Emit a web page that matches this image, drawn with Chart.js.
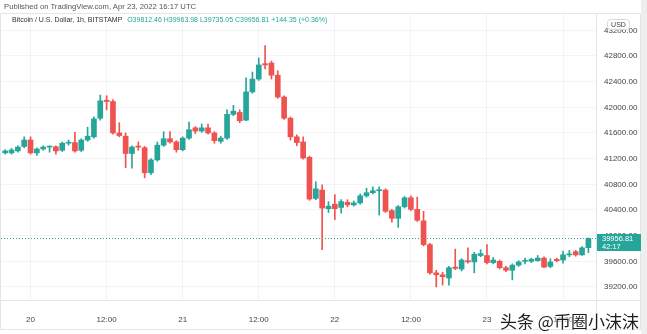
<!DOCTYPE html>
<html>
<head>
<meta charset="utf-8">
<script src="https://cdn.jsdelivr.net/npm/chart.js@4/dist/chart.umd.min.js"></script>
<style>
  html, body { margin: 0; padding: 0; background: #fff; }
  #wrap { position: relative; width: 647px; height: 334px; overflow: hidden; background: #fff; }
  #chart { position: absolute; left: 0; top: 0; }
  .pub { position: absolute; left: 4px; top: 2px; font: 7.7px "Liberation Sans", sans-serif; color: #555; white-space: nowrap; }
  .legend { position: absolute; left: 12px; top: 16px; font: 7px "Liberation Sans", sans-serif; color: #333; white-space: nowrap; }
  .legend .v { color: #26a69a; margin-left: 3px; }
  .wm { position: absolute; left: 500px; top: 308px; font: 17px "Noto Sans CJK SC", sans-serif; color: #1e1e1e; white-space: nowrap;
        text-shadow: 0 0 2px #fff, 0 0 2px #fff, 0 0 3px #fff; }
</style>
</head>
<body>
<div id="wrap">
  <canvas id="chart" width="647" height="334"></canvas>
  <div class="pub">Published on TradingView.com, Apr 23, 2022 16:17 UTC</div>
  <div class="legend">Bitcoin / U.S. Dollar, 1h, BITSTAMP <span class="v" id="ohlc"></span></div>
  <div class="wm">头条 @币圈小沫沫</div>
</div>
<script>
// BTC/USD hourly candles, Bitstamp, Apr 19 20:00 – Apr 23 16:00 UTC
const opens = [41290,41290,41320,41390,41490,41290,41350,41380,41385,41330,
  41440,41450,41330,41490,41540,41830,42110,42090,41600,41550,
  41280,41390,41370,40980,41180,41410,41510,41460,41340,41520,
  41680,41630,41680,41600,41470,41520,41890,41920,41800,42240,
  42440,42680,42690,42500,42160,41830,41540,41460,41220,40580,
  40710,40420,40490,40440,40520,40480,40510,40620,40670,40700,
  40710,40390,40270,40450,40590,40410,40230,39860,39420,39390,
  39340,39510,39480,39610,39590,39690,39690,39580,39600,39500,
  39460,39540,39600,39600,39610,39650,39520,39630,39620,39700,
  39750,39700,39812.46];

const highs = [41340,41360,41400,41540,41540,41370,41400,41400,41400,41460,
  41490,41610,41510,41690,41850,42190,42180,42120,41760,41600,
  41400,41460,41390,41200,41460,41620,41620,41480,41540,41770,
  41700,41740,41740,41620,41550,41960,42030,41960,42460,42550,
  42770,42960,42720,42570,42180,41850,41570,41540,41240,40840,
  40790,40530,40640,40560,40560,40540,40650,40740,40760,40760,
  40730,40410,40470,40610,40620,40600,40380,39880,39460,39430,
  39520,39790,39640,39810,39740,39780,39860,39660,39620,39520,
  39560,39610,39650,39650,39690,39670,39640,39650,39760,39770,
  39770,39830,39963.98];

const lows = [41270,41270,41300,41370,41270,41250,41330,41300,41270,41310,
  41410,41300,41310,41470,41520,41800,41960,41580,41540,41060,
  41050,41330,40900,40950,41160,41390,41440,41300,41320,41500,
  41590,41610,41580,41440,41440,41500,41870,41760,41790,42220,
  42420,42600,42440,42140,41810,41490,41400,41190,40550,40560,
  39780,40360,40250,40350,40450,40460,40490,40600,40650,40320,
  40360,40210,40130,40430,40390,40220,39840,39400,39200,39230,
  39230,39470,39450,39570,39420,39670,39560,39560,39480,39440,
  39310,39520,39560,39580,39600,39500,39500,39590,39570,39670,
  39680,39690,39735.05];

const closes = [41320,41335,41380,41490,41290,41350,41380,41385,41320,41440,
  41450,41320,41490,41550,41820,42100,42090,41600,41560,41280,
  41380,41380,40980,41180,41410,41510,41460,41340,41520,41650,
  41630,41680,41600,41480,41520,41890,41940,41790,42240,42440,
  42660,42660,42500,42160,41830,41540,41450,41210,40570,40730,
  40430,40460,40420,40530,40480,40510,40620,40670,40700,40710,
  40380,40270,40450,40590,40410,40240,39860,39420,39390,39360,
  39500,39490,39620,39590,39710,39720,39580,39620,39500,39460,
  39540,39590,39605,39630,39650,39510,39590,39610,39700,39715,
  39700,39810,39956.81];

// one candle per hour, starting Apr 19 20:00 UTC
const times = opens.map((_, i) => new Date(Date.UTC(2022, 3, 19, 20 + i)));
const dayLabels = ['20', '21', '22', '23'];
const halfDayLabel = '12:00';
const priceTicks = [39200, 39600, 40000, 40400, 40800, 41200, 41600, 42000, 42400, 42800, 43200];
const countdown = '42:17';
const prevClose = 39812.46;

const UP = '#26a69a', DOWN = '#ef5350';
const origin = Date.UTC(2022, 3, 20, 0);
const hourOf = t => (t - origin) / 3600000;
const colors = opens.map((o, i) => closes[i] >= o ? UP : DOWN);

const last = closes.length - 1;
const chg = closes[last] - prevClose;
document.getElementById('ohlc').textContent =
  'O' + opens[last].toFixed(2) + '  H' + highs[last].toFixed(2) + '  L' + lows[last].toFixed(2) +
  '  C' + closes[last].toFixed(2) + '  +' + chg.toFixed(2) + ' (+' + (chg / prevClose * 100).toFixed(2) + '%)';

const frame = {
  id: 'frame',
  beforeDraw(chart) {
    const { ctx, width, height } = chart;
    ctx.save();
    ctx.fillStyle = '#fff';
    ctx.fillRect(0, 0, width, height);
    ctx.fillStyle = '#eeeeee';
    ctx.fillRect(641, 0, width - 641, height);
    ctx.restore();
  },
  beforeDatasetsDraw(chart) {
    const { ctx, chartArea: a, scales: { y } } = chart;
    const yy = Math.round(y.getPixelForValue(closes[last])) + 0.5;
    ctx.save();
    ctx.strokeStyle = UP;
    ctx.lineWidth = 1;
    ctx.setLineDash([1, 2]);
    ctx.beginPath();
    ctx.moveTo(a.left, yy);
    ctx.lineTo(a.right, yy);
    ctx.stroke();
    ctx.restore();
  },
  afterDraw(chart) {
    const { ctx, chartArea: a, scales: { y } } = chart;
    ctx.save();
    // pane borders
    ctx.strokeStyle = '#e3e5ea';
    ctx.lineWidth = 1;
    ctx.beginPath();
    ctx.rect(0.5, 13.5, 640, 316);
    ctx.moveTo(a.right + 0.5, 13.5);
    ctx.lineTo(a.right + 0.5, 329.5);
    ctx.moveTo(0.5, a.bottom + 0.5);
    ctx.lineTo(640.5, a.bottom + 0.5);
    ctx.stroke();
    // currency badge
    ctx.fillStyle = 'rgba(255,255,255,0.92)';
    ctx.strokeStyle = '#d6d8de';
    ctx.beginPath();
    ctx.roundRect(607.5, 19.5, 22, 10, 3);
    ctx.fill();
    ctx.stroke();
    ctx.fillStyle = '#444';
    ctx.font = '7px "Liberation Sans", sans-serif';
    ctx.textAlign = 'center';
    ctx.textBaseline = 'middle';
    ctx.fillText('USD', 618.5, 25);
    // last price tag
    const yy = Math.round(y.getPixelForValue(closes[last]));
    ctx.fillStyle = UP;
    ctx.fillRect(a.right + 1, yy - 4, 44, 17);
    ctx.fillStyle = '#fff';
    ctx.textAlign = 'left';
    ctx.font = '7.5px "Liberation Sans", sans-serif';
    ctx.fillText(closes[last].toFixed(2), a.right + 6, yy + 1);
    ctx.fillText(countdown, a.right + 6, yy + 8.5);
    ctx.restore();
  }
};

new Chart(document.getElementById('chart'), {
  type: 'bar',
  data: {
    datasets: [
      {
        label: 'wick',
        data: times.map((t, i) => ({ x: hourOf(t), y: [lows[i], highs[i]] })),
        backgroundColor: colors,
        barThickness: 1,
        grouped: false,
        order: 2
      },
      {
        label: 'body',
        data: times.map((t, i) => ({ x: hourOf(t), y: [opens[i], closes[i]] })),
        backgroundColor: colors,
        barThickness: 5,
        minBarLength: 1,
        grouped: false,
        order: 1
      }
    ]
  },
  options: {
    responsive: false,
    devicePixelRatio: 1,
    animation: false,
    layout: { padding: { top: 14, left: 1, right: 0, bottom: 0 } },
    plugins: { legend: { display: false }, tooltip: { enabled: false } },
    scales: {
      x: {
        type: 'linear',
        offset: false,
        min: -4.66,
        max: 89.2,
        afterFit(s) { s.height = 34; },
        grid: { color: 'rgba(0,0,0,0.045)', drawTicks: false, offset: false },
        border: { display: false },
        ticks: {
          stepSize: 12,
          includeBounds: false,
          autoSkip: false,
          maxRotation: 0,
          padding: 15,
          color: '#444',
          font: { family: 'Liberation Sans', size: 8 },
          callback: v => (v % 24 === 0 ? dayLabels[v / 24] : halfDayLabel)
        }
      },
      y: {
        position: 'right',
        min: 38997,
        max: 43454,
        afterFit(s) { s.width = 51; },
        afterBuildTicks(s) { s.ticks = priceTicks.map(v => ({ value: v })); },
        grid: { color: 'rgba(0,0,0,0.045)', drawTicks: false },
        border: { display: false },
        ticks: {
          padding: 8,
          color: '#444',
          font: { family: 'Liberation Sans', size: 8 },
          callback: v => v.toFixed(2)
        }
      }
    }
  },
  plugins: [frame]
});
</script>
</body>
</html>
